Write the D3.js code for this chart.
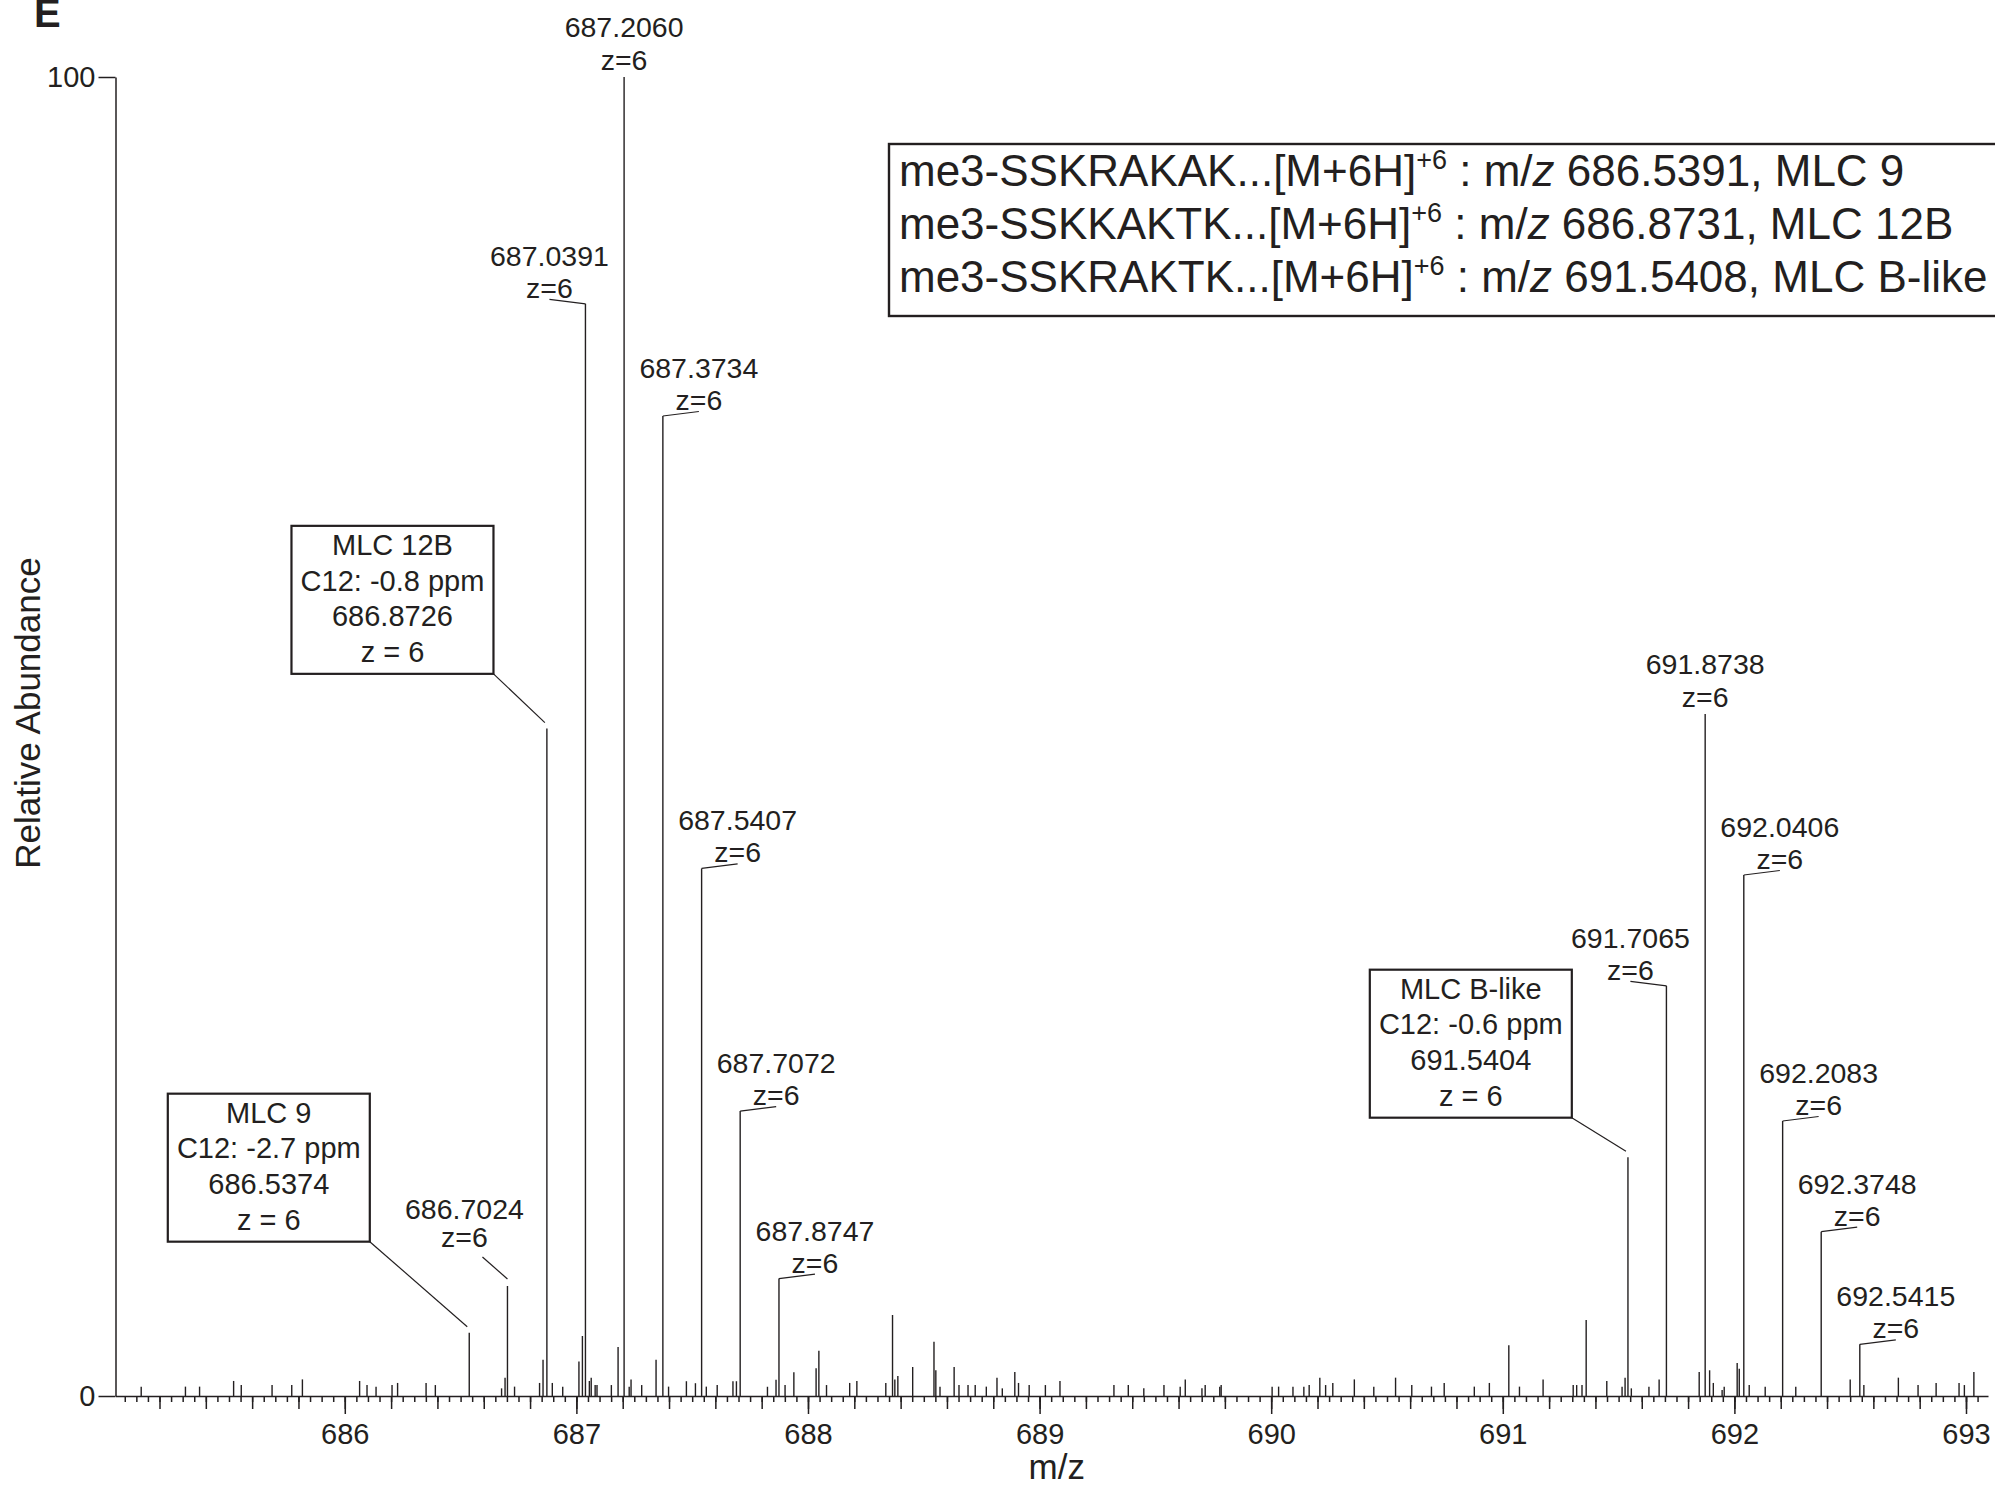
<!DOCTYPE html>
<html lang="en"><head><meta charset="UTF-8">
<script src="https://d3js.org/d3.v7.min.js"></script>
<style>
  body { margin: 0; background: #fff; }
  svg text { font-family: "Liberation Sans", Arial, Helvetica, sans-serif; fill: #231f20; white-space: pre; }
</style>
</head>
<body>
<div id="spectrum"></div>
<script>
// ---- data ----
// small (unlabelled) sticks: m/z and relative abundance
const minorMz = [685.121, 685.312, 685.373, 685.520, 685.553, 685.686, 685.771, 685.817,
  686.064, 686.096, 686.135, 686.204, 686.228, 686.351, 686.391, 686.677, 686.692, 686.733,
  686.841, 686.856, 686.896, 686.941, 687.011, 687.026, 687.056, 687.064, 687.081, 687.089,
  687.151, 687.180, 687.228, 687.236, 687.282, 687.344, 687.398, 687.475, 687.514, 687.561,
  687.608, 687.676, 687.691, 687.825, 687.862, 687.901, 687.939, 688.035, 688.047, 688.080,
  688.180, 688.211, 688.336, 688.365, 688.375, 688.388, 688.452, 688.544, 688.552, 688.570,
  688.631, 688.652, 688.691, 688.722, 688.770, 688.816, 688.839, 688.893, 688.909, 688.955,
  689.025, 689.088, 689.321, 689.383, 689.450, 689.537, 689.607, 689.629, 689.701, 689.715,
  689.778, 689.784, 690.004, 690.032, 690.094, 690.141, 690.164, 690.210, 690.235, 690.266,
  690.359, 690.443, 690.537, 690.607, 690.692, 690.747, 690.877, 690.942, 691.026, 691.072,
  691.174, 691.304, 691.319, 691.342, 691.360, 691.449, 691.515, 691.528, 691.555, 691.631,
  691.675, 691.848, 691.893, 691.909, 691.947, 691.956, 692.012, 692.021, 692.064, 692.133,
  692.265, 692.500, 692.559, 692.708, 692.793, 692.871, 692.970, 692.993, 693.034];
const minorInt = [0.71, 0.71, 0.71, 1.14, 0.83, 0.83, 0.83, 1.26,
  1.14, 0.83, 0.71, 0.83, 0.99, 0.99, 0.83, 0.58, 1.39, 0.71,
  0.99, 2.75, 0.99, 0.71, 2.62, 4.55, 1.14, 1.39, 0.83, 0.83,
  0.83, 3.71, 0.71, 1.26, 0.83, 2.75, 0.71, 1.12, 0.97, 0.71,
  0.83, 1.12, 1.12, 0.70, 1.24, 0.83, 1.80, 2.10, 3.43, 0.83,
  0.99, 1.14, 0.99, 6.14, 1.26, 1.52, 2.20, 4.12, 1.95, 0.71,
  2.20, 0.83, 0.83, 0.83, 0.71, 1.39, 0.58, 1.82, 0.99, 0.83,
  0.83, 1.14, 0.83, 0.83, 0.58, 0.83, 0.71, 1.26, 0.58, 0.83,
  0.71, 0.83, 0.71, 0.71, 0.71, 0.71, 0.83, 1.39, 0.83, 0.99,
  1.26, 0.71, 1.39, 0.83, 0.71, 0.99, 0.71, 0.99, 3.84, 0.71,
  1.26, 0.83, 0.83, 0.83, 5.76, 1.14, 0.71, 1.39, 0.58, 0.71,
  1.26, 1.82, 1.95, 0.99, 0.45, 0.71, 2.50, 2.07, 0.83, 0.71,
  0.71, 1.26, 0.83, 1.39, 0.83, 0.99, 0.99, 0.83, 1.82];

// labelled isotope peaks (z=6)
const peakMz = [686.7024, 687.0391, 687.2060, 687.3734, 687.5407, 687.7072, 687.8747,
  691.7065, 691.8738, 692.0406, 692.2083, 692.3748, 692.5415];
const peakInt = [8.34, 82.8, 100, 74.3, 40.0, 21.6, 8.9,
  31.1, 51.7, 39.5, 20.85, 12.46, 3.92];
const peakSide = ["upleft", "left", "top", "right", "right", "right", "right",
  "left", "top", "right", "right", "right", "right"];
const peakCharge = 6;

// monoisotopic peaks with boxed annotation
const boxName = ["MLC 9", "MLC 12B", "MLC B-like"];
const boxPpm = ["-2.7", "-0.8", "-0.6"];
const boxMz = [686.5374, 686.8726, 691.5404];
const boxInt = [4.8, 50.6, 18.1];
// where the box's lower-right corner sits, in chart units (m/z, abundance)
const boxCornerMz = [686.108, 686.642, 691.298];
const boxCornerInt = [11.7, 54.75, 21.1];

// legend box (top right)
const legendPeptide = ["me3-SSKRAKAK...", "me3-SSKKAKTK...", "me3-SSKRAKTK..."];
const legendMz = ["686.5391", "686.8731", "691.5408"];
const legendName = ["MLC 9", "MLC 12B", "MLC B-like"];

const xMajorTicks = [686, 687, 688, 689, 690, 691, 692, 693];
const yTicks = [0, 100];

function drawSpectrum() {
  const width = 1995, height = 1486;
  const ink = "#231f20";

  const svg = d3.select("#spectrum").append("svg")
      .attr("width", width)
      .attr("height", height)
      .attr("viewBox", [0, 0, width, height]);

  svg.append("rect").attr("width", width).attr("height", height).attr("fill", "#fff");

  const x = d3.scaleLinear().domain([685.01, 693.095]).range([115.5, 1988]);
  const y = d3.scaleLinear().domain([0, 100]).range([1396, 77]);

  // x axis: three tick levels
  const minorTicks = d3.range(685.05, 693.06, 0.05).map(v => +v.toFixed(2));
  const midTicks = d3.range(685.2, 693.01, 0.2).map(v => +v.toFixed(1));

  const xg = svg.append("g").attr("transform", `translate(0,${y(0)})`);
  xg.append("g").call(d3.axisBottom(x).tickValues(minorTicks).tickSize(6).tickSizeOuter(0).tickFormat(""));
  xg.append("g").call(d3.axisBottom(x).tickValues(midTicks).tickSize(13).tickSizeOuter(0).tickFormat(""))
      .call(g => g.select(".domain").remove());
  xg.append("g").call(d3.axisBottom(x).tickValues(xMajorTicks).tickSize(18).tickSizeOuter(0).tickPadding(9).tickFormat(d3.format("d")))
      .call(g => g.select(".domain").remove())
      .call(g => g.selectAll("text").attr("font-size", 29).attr("fill", ink));
  xg.selectAll(".domain, .tick line").attr("stroke", ink).attr("stroke-width", 1.5);

  svg.append("text")
      .attr("x", (x.range()[0] + x.range()[1]) / 2 + 5)
      .attr("y", 1479)
      .attr("text-anchor", "middle")
      .attr("font-size", 35)
      .text("m/z");

  // y axis
  svg.append("g")
      .attr("transform", `translate(${x.range()[0]},0)`)
      .call(d3.axisLeft(y).tickValues(yTicks).tickSize(17).tickSizeOuter(0).tickPadding(3))
      .call(g => g.selectAll("text").attr("font-size", 29).attr("fill", ink))
      .call(g => g.selectAll(".domain, .tick line").attr("stroke", ink).attr("stroke-width", 1.5));

  svg.append("text")
      .attr("transform", `translate(40,${713}) rotate(-90)`)
      .attr("text-anchor", "middle")
      .attr("font-size", 35)
      .text("Relative Abundance");

  // panel letter (top clipped like the original)
  svg.append("text")
      .attr("x", 34).attr("y", 27)
      .attr("font-size", 40).attr("font-weight", "bold")
      .text("E");

  // sticks
  const sticks = minorMz.map((m, i) => ({mz: m, v: minorInt[i]}))
      .concat(peakMz.map((m, i) => ({mz: m, v: peakInt[i]})))
      .concat(boxMz.map((m, i) => ({mz: m, v: boxInt[i]})));

  svg.append("g").selectAll("line")
    .data(sticks)
    .join("line")
      .attr("x1", d => x(d.mz)).attr("x2", d => x(d.mz))
      .attr("y1", y(0)).attr("y2", d => y(d.v))
      .attr("stroke", ink).attr("stroke-width", 1.4);

  // peak labels
  const lab = svg.append("g").attr("font-size", 28.5).attr("text-anchor", "middle");
  peakMz.forEach((m, i) => {
    const px = x(m), py = y(peakInt[i]);
    const side = peakSide[i];
    let cx, b1, b2;
    if (side === "top") {
      cx = px; b1 = py - 40; b2 = py - 7;
    } else if (side === "upleft") {
      cx = px - 43; b1 = py - 67; b2 = py - 39;
      lab.append("line").attr("x1", px).attr("y1", py - 7).attr("x2", px - 25).attr("y2", py - 29)
          .attr("stroke", ink).attr("stroke-width", 1.2);
    } else {
      const s = side === "left" ? -1 : 1;
      cx = px + s * 36; b1 = py - 38; b2 = py - 6;
      lab.append("line").attr("x1", px).attr("y1", py).attr("x2", cx).attr("y2", py - 4.5)
          .attr("stroke", ink).attr("stroke-width", 1.2);
    }
    lab.append("text").attr("x", cx).attr("y", b1).text(m.toFixed(4));
    lab.append("text").attr("x", cx).attr("y", b2).text("z=" + peakCharge);
  });

  // boxed annotations
  const boxW = 202, boxH = 148;
  boxName.forEach((name, i) => {
    const rx = x(boxCornerMz[i]), by = y(boxCornerInt[i]);
    const g = svg.append("g");
    g.append("rect")
        .attr("x", rx - boxW).attr("y", by - boxH)
        .attr("width", boxW).attr("height", boxH)
        .attr("fill", "#fff").attr("stroke", ink).attr("stroke-width", 2.2);
    g.append("line")
        .attr("x1", rx).attr("y1", by)
        .attr("x2", x(boxMz[i]) - 2).attr("y2", y(boxInt[i]) - 6)
        .attr("stroke", ink).attr("stroke-width", 1.2);
    const lines = [name, "C12: " + boxPpm[i] + " ppm", boxMz[i].toFixed(4), "z = " + peakCharge];
    g.selectAll("text").data(lines).join("text")
        .attr("x", rx - boxW / 2)
        .attr("y", (d, j) => by - boxH + 29 + j * 35.7)
        .attr("text-anchor", "middle")
        .attr("font-size", 29)
        .text(d => d);
  });

  // legend box, right edge runs off the page
  const leg = svg.append("g");
  leg.append("rect")
      .attr("x", 889).attr("y", 144)
      .attr("width", 1200).attr("height", 172)
      .attr("fill", "#fff").attr("stroke", ink).attr("stroke-width", 2.4);
  legendPeptide.forEach((p, i) => {
    const t = leg.append("text").attr("x", 899).attr("y", 186 + i * 53).attr("font-size", 44);
    t.append("tspan").text(p + "[M+6H]");
    t.append("tspan").attr("font-size", 27).attr("dy", -17).text("+" + peakCharge);
    t.append("tspan").attr("dy", 17).text(" : m/");
    t.append("tspan").attr("font-style", "italic").text("z");
    t.append("tspan").text(" " + legendMz[i] + ", " + legendName[i]);
  });
}

window.onload = drawSpectrum;
</script>
</body>
</html>
